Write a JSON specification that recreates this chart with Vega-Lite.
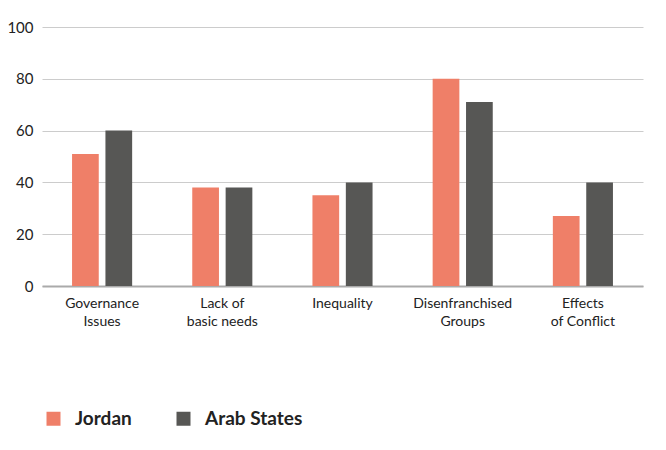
{
  "$schema": "https://vega.github.io/schema/vega-lite/v6.json",
  "autosize": "none",
  "width": 601,
  "height": 259,
  "padding": {"left": 42, "top": 27, "right": 23, "bottom": 164},
  "background": "white",
  "data": {
    "values": [
      {"issue": "Governance Issues", "region": "Jordan", "value": 51},
      {"issue": "Governance Issues", "region": "Arab States", "value": 60},
      {"issue": "Lack of basic needs", "region": "Jordan", "value": 38},
      {"issue": "Lack of basic needs", "region": "Arab States", "value": 38},
      {"issue": "Inequality", "region": "Jordan", "value": 35},
      {"issue": "Inequality", "region": "Arab States", "value": 40},
      {"issue": "Disenfranchised Groups", "region": "Jordan", "value": 80},
      {"issue": "Disenfranchised Groups", "region": "Arab States", "value": 71},
      {"issue": "Effects of Conflict", "region": "Jordan", "value": 27},
      {"issue": "Effects of Conflict", "region": "Arab States", "value": 40}
    ]
  },
  "mark": {"type": "bar"},
  "encoding": {
    "x": {
      "field": "issue",
      "type": "nominal",
      "sort": null,
      "scale": {"paddingInner": 0.5, "paddingOuter": 0.25},
      "axis": {
        "title": null,
        "labelAngle": 0,
        "labelFont": "Lato",
        "labelFontSize": 14,
        "labelColor": "#222222",
        "labelPadding": 10,
        "labelLineHeight": 18,
        "labelExpr": "datum.label == 'Governance Issues' ? ['Governance', 'Issues'] : datum.label == 'Lack of basic needs' ? ['Lack of', 'basic needs'] : datum.label == 'Disenfranchised Groups' ? ['Disenfranchised', 'Groups'] : datum.label == 'Effects of Conflict' ? ['Effects', 'of Conflict'] : datum.label",
        "ticks": false,
        "domainColor": "#aaaaaa",
        "domainWidth": 2
      }
    },
    "xOffset": {
      "field": "region",
      "type": "nominal",
      "sort": ["Jordan", "Arab States"],
      "scale": {"paddingInner": 0.2, "paddingOuter": 0}
    },
    "y": {
      "field": "value",
      "type": "quantitative",
      "scale": {"domain": [0, 100]},
      "axis": {
        "title": null,
        "values": [0, 20, 40, 60, 80, 100],
        "domain": false,
        "ticks": false,
        "labelFont": "Lato",
        "labelFontSize": 15,
        "labelColor": "#222222",
        "labelPadding": 9,
        "gridColor": "#cccccc",
        "gridWidth": 1
      }
    },
    "color": {
      "field": "region",
      "type": "nominal",
      "sort": ["Jordan", "Arab States"],
      "scale": {"domain": ["Jordan", "Arab States"], "range": ["#ef7f68", "#575755"]},
      "legend": {
        "title": null,
        "orient": "none",
        "direction": "horizontal",
        "legendX": 2,
        "legendY": 382,
        "symbolType": "square",
        "symbolSize": 196,
        "symbolStrokeWidth": 0,
        "labelFont": "Lato",
        "labelFontSize": 19,
        "labelFontWeight": "bold",
        "labelColor": "#222222",
        "labelOffset": 12,
        "columnPadding": 42
      }
    }
  },
  "config": {
    "view": {"stroke": null}
  }
}
